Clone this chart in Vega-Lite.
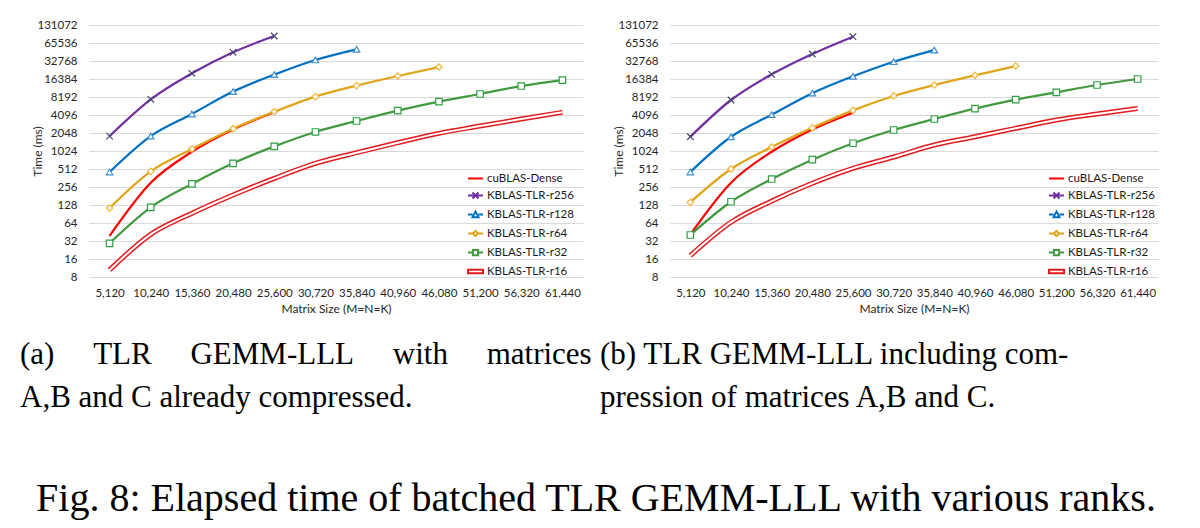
{
  "$schema": "https://vega.github.io/schema/vega-lite/v6.json",
  "background": "white",
  "padding": {"left": 20, "top": 19, "right": 10, "bottom": 4},
  "config": {
    "font": "Lato",
    "view": {"stroke": null},
    "axis": {"labelFont": "Lato", "titleFont": "Lato", "labelFontSize": 11.5, "titleFontSize": 12, "labelColor": "#262626", "titleColor": "#262626", "titleFontWeight": "normal", "domain": false, "ticks": false, "gridColor": "#d9d9d9", "gridWidth": 1},
    "legend": {"orient": "none", "legendX": 378, "legendY": 145, "symbolSize": 225, "symbolStrokeWidth": 2, "symbolOpacity": 1, "symbolFillColor": "white", "labelFont": "Lato", "labelFontSize": 11.5, "labelColor": "#1a1a1a", "labelOffset": 3, "rowPadding": 3, "padding": 0, "title": null}
  },
  "title": {"text": "Fig. 8: Elapsed time of batched TLR GEMM-LLL with various ranks.", "orient": "bottom", "anchor": "middle", "dx": 7, "font": "Liberation Serif", "fontSize": 40, "fontWeight": "normal", "color": "black", "offset": 66},
  "datasets": {
    "a": [
      {"s": "cuBLAS-Dense", "n": "5,120", "t": 39}, {"s": "cuBLAS-Dense", "n": "10,240", "t": 302}, {"s": "cuBLAS-Dense", "n": "15,360", "t": 995}, {"s": "cuBLAS-Dense", "n": "20,480", "t": 2350}, {"s": "cuBLAS-Dense", "n": "25,600", "t": 4550},
      {"s": "KBLAS-TLR-r256", "n": "5,120", "t": 1820}, {"s": "KBLAS-TLR-r256", "n": "10,240", "t": 7500}, {"s": "KBLAS-TLR-r256", "n": "15,360", "t": 20400}, {"s": "KBLAS-TLR-r256", "n": "20,480", "t": 45800}, {"s": "KBLAS-TLR-r256", "n": "25,600", "t": 85800},
      {"s": "KBLAS-TLR-r128", "n": "5,120", "t": 456}, {"s": "KBLAS-TLR-r128", "n": "10,240", "t": 1820}, {"s": "KBLAS-TLR-r128", "n": "15,360", "t": 4260}, {"s": "KBLAS-TLR-r128", "n": "20,480", "t": 10100}, {"s": "KBLAS-TLR-r128", "n": "25,600", "t": 19400}, {"s": "KBLAS-TLR-r128", "n": "30,720", "t": 34100}, {"s": "KBLAS-TLR-r128", "n": "35,840", "t": 51400},
      {"s": "KBLAS-TLR-r64", "n": "5,120", "t": 114}, {"s": "KBLAS-TLR-r64", "n": "10,240", "t": 468}, {"s": "KBLAS-TLR-r64", "n": "15,360", "t": 1105}, {"s": "KBLAS-TLR-r64", "n": "20,480", "t": 2420}, {"s": "KBLAS-TLR-r64", "n": "25,600", "t": 4640}, {"s": "KBLAS-TLR-r64", "n": "30,720", "t": 8300}, {"s": "KBLAS-TLR-r64", "n": "35,840", "t": 12700}, {"s": "KBLAS-TLR-r64", "n": "40,960", "t": 18400}, {"s": "KBLAS-TLR-r64", "n": "46,080", "t": 26000},
      {"s": "KBLAS-TLR-r32", "n": "5,120", "t": 29.3}, {"s": "KBLAS-TLR-r32", "n": "10,240", "t": 117}, {"s": "KBLAS-TLR-r32", "n": "15,360", "t": 288}, {"s": "KBLAS-TLR-r32", "n": "20,480", "t": 638}, {"s": "KBLAS-TLR-r32", "n": "25,600", "t": 1226}, {"s": "KBLAS-TLR-r32", "n": "30,720", "t": 2130}, {"s": "KBLAS-TLR-r32", "n": "35,840", "t": 3250}, {"s": "KBLAS-TLR-r32", "n": "40,960", "t": 4840}, {"s": "KBLAS-TLR-r32", "n": "46,080", "t": 6840}, {"s": "KBLAS-TLR-r32", "n": "51,200", "t": 9200}, {"s": "KBLAS-TLR-r32", "n": "56,320", "t": 12500}, {"s": "KBLAS-TLR-r32", "n": "61,440", "t": 15700},
      {"s": "KBLAS-TLR-r16", "n": "5,120", "t": 10.5}, {"s": "KBLAS-TLR-r16", "n": "10,240", "t": 41.3}, {"s": "KBLAS-TLR-r16", "n": "15,360", "t": 93}, {"s": "KBLAS-TLR-r16", "n": "20,480", "t": 188}, {"s": "KBLAS-TLR-r16", "n": "25,600", "t": 357}, {"s": "KBLAS-TLR-r16", "n": "30,720", "t": 638}, {"s": "KBLAS-TLR-r16", "n": "35,840", "t": 960}, {"s": "KBLAS-TLR-r16", "n": "40,960", "t": 1410}, {"s": "KBLAS-TLR-r16", "n": "46,080", "t": 2020}, {"s": "KBLAS-TLR-r16", "n": "51,200", "t": 2680}, {"s": "KBLAS-TLR-r16", "n": "56,320", "t": 3510}, {"s": "KBLAS-TLR-r16", "n": "61,440", "t": 4540}
    ],
    "b": [
      {"s": "cuBLAS-Dense", "n": "5,120", "t": 41}, {"s": "cuBLAS-Dense", "n": "10,240", "t": 302}, {"s": "cuBLAS-Dense", "n": "15,360", "t": 995}, {"s": "cuBLAS-Dense", "n": "20,480", "t": 2350}, {"s": "cuBLAS-Dense", "n": "25,600", "t": 4490},
      {"s": "KBLAS-TLR-r256", "n": "5,120", "t": 1770}, {"s": "KBLAS-TLR-r256", "n": "10,240", "t": 7300}, {"s": "KBLAS-TLR-r256", "n": "15,360", "t": 19600}, {"s": "KBLAS-TLR-r256", "n": "20,480", "t": 42900}, {"s": "KBLAS-TLR-r256", "n": "25,600", "t": 83500},
      {"s": "KBLAS-TLR-r128", "n": "5,120", "t": 456}, {"s": "KBLAS-TLR-r128", "n": "10,240", "t": 1770}, {"s": "KBLAS-TLR-r128", "n": "15,360", "t": 4150}, {"s": "KBLAS-TLR-r128", "n": "20,480", "t": 9500}, {"s": "KBLAS-TLR-r128", "n": "25,600", "t": 18200}, {"s": "KBLAS-TLR-r128", "n": "30,720", "t": 31900}, {"s": "KBLAS-TLR-r128", "n": "35,840", "t": 50000},
      {"s": "KBLAS-TLR-r64", "n": "5,120", "t": 142}, {"s": "KBLAS-TLR-r64", "n": "10,240", "t": 512}, {"s": "KBLAS-TLR-r64", "n": "15,360", "t": 1195}, {"s": "KBLAS-TLR-r64", "n": "20,480", "t": 2500}, {"s": "KBLAS-TLR-r64", "n": "25,600", "t": 4900}, {"s": "KBLAS-TLR-r64", "n": "30,720", "t": 8530}, {"s": "KBLAS-TLR-r64", "n": "35,840", "t": 13000}, {"s": "KBLAS-TLR-r64", "n": "40,960", "t": 18900}, {"s": "KBLAS-TLR-r64", "n": "46,080", "t": 27000},
      {"s": "KBLAS-TLR-r32", "n": "5,120", "t": 40.3}, {"s": "KBLAS-TLR-r32", "n": "10,240", "t": 145}, {"s": "KBLAS-TLR-r32", "n": "15,360", "t": 348}, {"s": "KBLAS-TLR-r32", "n": "20,480", "t": 733}, {"s": "KBLAS-TLR-r32", "n": "25,600", "t": 1380}, {"s": "KBLAS-TLR-r32", "n": "30,720", "t": 2300}, {"s": "KBLAS-TLR-r32", "n": "35,840", "t": 3510}, {"s": "KBLAS-TLR-r32", "n": "40,960", "t": 5220}, {"s": "KBLAS-TLR-r32", "n": "46,080", "t": 7380}, {"s": "KBLAS-TLR-r32", "n": "51,200", "t": 9800}, {"s": "KBLAS-TLR-r32", "n": "56,320", "t": 13000}, {"s": "KBLAS-TLR-r32", "n": "61,440", "t": 16384},
      {"s": "KBLAS-TLR-r16", "n": "5,120", "t": 18.2}, {"s": "KBLAS-TLR-r16", "n": "10,240", "t": 66}, {"s": "KBLAS-TLR-r16", "n": "15,360", "t": 149}, {"s": "KBLAS-TLR-r16", "n": "20,480", "t": 296}, {"s": "KBLAS-TLR-r16", "n": "25,600", "t": 526}, {"s": "KBLAS-TLR-r16", "n": "30,720", "t": 813}, {"s": "KBLAS-TLR-r16", "n": "35,840", "t": 1290}, {"s": "KBLAS-TLR-r16", "n": "40,960", "t": 1770}, {"s": "KBLAS-TLR-r16", "n": "46,080", "t": 2450}, {"s": "KBLAS-TLR-r16", "n": "51,200", "t": 3370}, {"s": "KBLAS-TLR-r16", "n": "56,320", "t": 4260}, {"s": "KBLAS-TLR-r16", "n": "61,440", "t": 5290}
    ]
  },
  "bounds": "flush",
  "spacing": 87,
  "hconcat": [
    {
      "width": 494,
      "height": 252,
      "data": {"name": "a"},
      "title": {"text": ["(a)\u00a0\u00a0\u00a0\u00a0\u00a0TLR\u00a0\u00a0\u00a0\u00a0\u00a0GEMM-LLL\u00a0\u00a0\u00a0\u00a0\u00a0with\u00a0\u00a0\u00a0\u00a0\u00a0matrices", "A,B and C already compressed."], "orient": "bottom", "anchor": "start", "frame": "group", "dx": -69, "offset": 25, "font": "Liberation Serif", "fontSize": 31, "fontWeight": "normal", "lineHeight": 43, "color": "black"},
      "encoding": {
        "x": {"field": "n", "type": "ordinal", "scale": {"domain": ["5,120", "10,240", "15,360", "20,480", "25,600", "30,720", "35,840", "40,960", "46,080", "51,200", "56,320", "61,440"]}, "axis": {"title": "Matrix Size (M=N=K)", "labelAngle": 0, "grid": false, "labelPadding": 10, "titlePadding": 5}},
        "y": {"field": "t", "type": "quantitative", "scale": {"type": "log", "base": 2, "domain": [8, 131072], "nice": false}, "axis": {"title": "Time (ms)", "values": [8, 16, 32, 64, 128, 256, 512, 1024, 2048, 4096, 8192, 16384, 32768, 65536, 131072], "format": "d", "labelPadding": 12, "titlePadding": -8, "grid": true}}
      },
      "resolve": {"scale": {"color": "independent", "shape": "independent"}},
      "layer": [
        {"transform": [{"filter": "datum.s !== 'KBLAS-TLR-r16'"}], "mark": {"type": "line", "strokeWidth": 2.25, "interpolate": "monotone"}, "encoding": {"color": {"field": "s", "type": "nominal", "legend": null, "scale": {"domain": ["cuBLAS-Dense", "KBLAS-TLR-r256", "KBLAS-TLR-r128", "KBLAS-TLR-r64", "KBLAS-TLR-r32"], "range": ["#ff0000", "#7030a0", "#0070c0", "#e0a418", "#43993f"]}}}},
        {"transform": [{"filter": "datum.s === 'KBLAS-TLR-r16'"}], "mark": {"type": "line", "color": "#e31a1c", "strokeWidth": 5, "interpolate": "monotone"}, "encoding": {}},
        {"transform": [{"filter": "datum.s === 'KBLAS-TLR-r16'"}], "mark": {"type": "line", "color": "white", "strokeWidth": 2, "interpolate": "monotone"}, "encoding": {}},
        {"transform": [{"filter": "datum.s !== 'KBLAS-TLR-r16' && datum.s !== 'cuBLAS-Dense'"}], "mark": {"type": "point", "filled": false, "fill": "white", "size": 42, "strokeWidth": 1.2, "opacity": 1},
         "encoding": {"color": {"field": "s", "type": "nominal", "legend": null, "scale": {"domain": ["KBLAS-TLR-r256", "KBLAS-TLR-r128", "KBLAS-TLR-r64", "KBLAS-TLR-r32"], "range": ["#46466e", "#3d8fd6", "#f0b43c", "#2ea043"]}},
                      "shape": {"field": "s", "type": "nominal", "legend": null, "scale": {"domain": ["KBLAS-TLR-r256", "KBLAS-TLR-r128", "KBLAS-TLR-r64", "KBLAS-TLR-r32"], "range": ["M-1,-1L1,1M-1,1L1,-1", "triangle-up", "diamond", "square"]}}}},
        {"mark": {"type": "point", "filled": false, "fill": "white", "opacity": 0},
         "encoding": {"color": {"field": "s", "type": "nominal", "scale": {"domain": ["cuBLAS-Dense", "KBLAS-TLR-r256", "KBLAS-TLR-r128", "KBLAS-TLR-r64", "KBLAS-TLR-r32", "KBLAS-TLR-r16"], "range": ["#ff0000", "#7030a0", "#0070c0", "#e0a418", "#43993f", "#e31a1c"]}, "legend": {"title": null}},
                      "shape": {"field": "s", "type": "nominal", "scale": {"domain": ["cuBLAS-Dense", "KBLAS-TLR-r256", "KBLAS-TLR-r128", "KBLAS-TLR-r64", "KBLAS-TLR-r32", "KBLAS-TLR-r16"], "range": ["M-1,0L1,0", "M-1,0L1,0M-0.4,-0.4L0.4,0.4M-0.4,0.4L0.4,-0.4", "M-1,0L-0.4,0M0.4,0L1,0M-0.4,0.35L0,-0.4L0.4,0.35Z", "M-1,0L-0.35,0M0.35,0L1,0M-0.35,0L0,-0.35L0.35,0L0,0.35Z", "M-1,0L-0.35,0M0.35,0L1,0M-0.35,-0.35L0.35,-0.35L0.35,0.35L-0.35,0.35Z", "M-1,-0.22L1,-0.22L1,0.22L-1,0.22Z"]}, "legend": {"title": null}}}}
      ]
    },
    {
      "width": 488,
      "height": 252,
      "data": {"name": "b"},
      "title": {"text": ["(b)  TLR  GEMM-LLL  including  com-", "pression of matrices A,B and C."], "orient": "bottom", "anchor": "start", "frame": "group", "dx": -70, "offset": 25, "font": "Liberation Serif", "fontSize": 31, "fontWeight": "normal", "lineHeight": 43, "color": "black"},
      "encoding": {
        "x": {"field": "n", "type": "ordinal", "scale": {"domain": ["5,120", "10,240", "15,360", "20,480", "25,600", "30,720", "35,840", "40,960", "46,080", "51,200", "56,320", "61,440"]}, "axis": {"title": "Matrix Size (M=N=K)", "labelAngle": 0, "grid": false, "labelPadding": 10, "titlePadding": 5}},
        "y": {"field": "t", "type": "quantitative", "scale": {"type": "log", "base": 2, "domain": [8, 131072], "nice": false}, "axis": {"title": "Time (ms)", "values": [8, 16, 32, 64, 128, 256, 512, 1024, 2048, 4096, 8192, 16384, 32768, 65536, 131072], "format": "d", "labelPadding": 12, "titlePadding": -8, "grid": true}}
      },
      "resolve": {"scale": {"color": "independent", "shape": "independent"}},
      "layer": [
        {"transform": [{"filter": "datum.s !== 'KBLAS-TLR-r16'"}], "mark": {"type": "line", "strokeWidth": 2.25, "interpolate": "monotone"}, "encoding": {"color": {"field": "s", "type": "nominal", "legend": null, "scale": {"domain": ["cuBLAS-Dense", "KBLAS-TLR-r256", "KBLAS-TLR-r128", "KBLAS-TLR-r64", "KBLAS-TLR-r32"], "range": ["#ff0000", "#7030a0", "#0070c0", "#e0a418", "#43993f"]}}}},
        {"transform": [{"filter": "datum.s === 'KBLAS-TLR-r16'"}], "mark": {"type": "line", "color": "#e31a1c", "strokeWidth": 5, "interpolate": "monotone"}, "encoding": {}},
        {"transform": [{"filter": "datum.s === 'KBLAS-TLR-r16'"}], "mark": {"type": "line", "color": "white", "strokeWidth": 2, "interpolate": "monotone"}, "encoding": {}},
        {"transform": [{"filter": "datum.s !== 'KBLAS-TLR-r16' && datum.s !== 'cuBLAS-Dense'"}], "mark": {"type": "point", "filled": false, "fill": "white", "size": 42, "strokeWidth": 1.2, "opacity": 1},
         "encoding": {"color": {"field": "s", "type": "nominal", "legend": null, "scale": {"domain": ["KBLAS-TLR-r256", "KBLAS-TLR-r128", "KBLAS-TLR-r64", "KBLAS-TLR-r32"], "range": ["#46466e", "#3d8fd6", "#f0b43c", "#2ea043"]}},
                      "shape": {"field": "s", "type": "nominal", "legend": null, "scale": {"domain": ["KBLAS-TLR-r256", "KBLAS-TLR-r128", "KBLAS-TLR-r64", "KBLAS-TLR-r32"], "range": ["M-1,-1L1,1M-1,1L1,-1", "triangle-up", "diamond", "square"]}}}},
        {"mark": {"type": "point", "filled": false, "fill": "white", "opacity": 0},
         "encoding": {"color": {"field": "s", "type": "nominal", "scale": {"domain": ["cuBLAS-Dense", "KBLAS-TLR-r256", "KBLAS-TLR-r128", "KBLAS-TLR-r64", "KBLAS-TLR-r32", "KBLAS-TLR-r16"], "range": ["#ff0000", "#7030a0", "#0070c0", "#e0a418", "#43993f", "#e31a1c"]}, "legend": {"title": null}},
                      "shape": {"field": "s", "type": "nominal", "scale": {"domain": ["cuBLAS-Dense", "KBLAS-TLR-r256", "KBLAS-TLR-r128", "KBLAS-TLR-r64", "KBLAS-TLR-r32", "KBLAS-TLR-r16"], "range": ["M-1,0L1,0", "M-1,0L1,0M-0.4,-0.4L0.4,0.4M-0.4,0.4L0.4,-0.4", "M-1,0L-0.4,0M0.4,0L1,0M-0.4,0.35L0,-0.4L0.4,0.35Z", "M-1,0L-0.35,0M0.35,0L1,0M-0.35,0L0,-0.35L0.35,0L0,0.35Z", "M-1,0L-0.35,0M0.35,0L1,0M-0.35,-0.35L0.35,-0.35L0.35,0.35L-0.35,0.35Z", "M-1,-0.22L1,-0.22L1,0.22L-1,0.22Z"]}, "legend": {"title": null}}}}
      ]
    }
  ]
}
